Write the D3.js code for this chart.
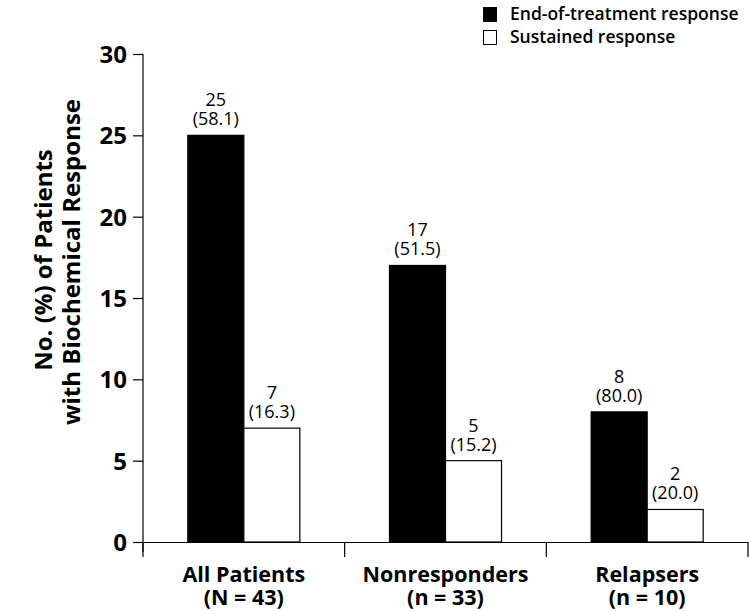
<!DOCTYPE html>
<html>
<head>
<meta charset="utf-8">
<script src="https://cdn.jsdelivr.net/npm/d3@7"></script>
<style>
  body { margin: 0; background: #fff; }
  svg text { font-family: "Open Sans", sans-serif; fill: #000; }
</style>
</head>
<body>
<svg id="chart"></svg>
<script>
const groups = ["All Patients", "Nonresponders", "Relapsers"];
const groupNs = ["(N = 43)", "(n = 33)", "(n = 10)"];
const seriesNames = ["End-of-treatment response", "Sustained response"];
const endOfTreatment = [25, 17, 8];
const endPct = ["58.1", "51.5", "80.0"];
const sustained = [7, 5, 2];
const sustPct = ["16.3", "15.2", "20.0"];
const yTicks = [0, 5, 10, 15, 20, 25, 30];

const width = 750, height = 611;
const margin = {top: 54, right: 2, bottom: 69, left: 143};

const svg = d3.select("#chart").attr("width", width).attr("height", height);

const x = d3.scaleBand().domain(groups).range([margin.left, width - margin.right]);
const y = d3.scaleLinear().domain([0, 30]).range([height - margin.bottom, margin.top]);
const sub = d3.scaleBand().domain([0, 1]).range([0, x.bandwidth()]).paddingInner(0).paddingOuter(0.8);

const colors = ["#000", "#fff"];
const series = [
  {vals: endOfTreatment, pct: endPct},
  {vals: sustained, pct: sustPct}
];

// axes
const yAxis = svg.append("g").attr("transform", `translate(${margin.left},0)`)
  .call(d3.axisLeft(y).tickValues(yTicks).tickSize(10).tickPadding(6));
yAxis.select(".domain").attr("d", `M0,${y(0) + 10}V${y(30)}`).attr("stroke-width", 1.2);
yAxis.selectAll(".tick line").attr("stroke-width", 1.2);
yAxis.selectAll(".tick text").attr("dy", "0.36em").style("font-size", "24px").style("font-weight", 700)
  .attr("font-family", "Open Sans");

const xAxis = svg.append("g").attr("transform", `translate(0,${y(0)})`)
  .call(d3.axisBottom(x).tickSize(0).tickFormat(""));
xAxis.select(".domain").attr("stroke-width", 1.2);
xAxis.selectAll(".tick").remove();
// boundary ticks between groups
const bounds = groups.map(g => x(g)).concat([x(groups[2]) + x.bandwidth()]);
xAxis.selectAll("line.b").data(bounds).join("line")
  .attr("x1", d => d).attr("x2", d => d).attr("y1", 0).attr("y2", 15)
  .attr("stroke", "#000").attr("stroke-width", 1.2);

// bars
const gGroup = svg.selectAll("g.grp").data(groups).join("g").attr("class", "grp")
  .attr("transform", d => `translate(${x(d)},0)`);

series.forEach((s, si) => {
  const cx = sub(si) + sub.bandwidth() / 2;
  gGroup.append("rect")
    .attr("x", sub(si))
    .attr("width", sub.bandwidth())
    .attr("y", (d, i) => y(s.vals[i]))
    .attr("height", (d, i) => y(0) - y(s.vals[i]))
    .attr("fill", colors[si])
    .attr("stroke", "#000")
    .attr("stroke-width", 1.2);

  gGroup.append("text")
    .attr("text-anchor", "middle").attr("x", cx)
    .attr("y", (d, i) => y(s.vals[i]) - 29)
    .style("font-size", "18px").style("font-weight", 500)
    .text((d, i) => s.vals[i]);
  gGroup.append("text")
    .attr("text-anchor", "middle").attr("x", cx)
    .attr("y", (d, i) => y(s.vals[i]) - 10)
    .style("font-size", "18px").style("font-weight", 500)
    .text((d, i) => `(${s.pct[i]})`);
});

// category labels
svg.selectAll("text.cat").data(groups).join("text").attr("class", "cat")
  .attr("text-anchor", "middle")
  .attr("x", d => x(d) + x.bandwidth() / 2)
  .attr("y", 582)
  .style("font-size", "21.5px").style("font-weight", 700)
  .text(d => d);
svg.selectAll("text.catn").data(groups).join("text").attr("class", "catn")
  .attr("text-anchor", "middle")
  .attr("x", d => x(d) + x.bandwidth() / 2)
  .attr("y", 605)
  .style("font-size", "21.5px").style("font-weight", 700)
  .text((d, i) => groupNs[i]);

// y title
svg.append("text").attr("transform", "translate(52,260) rotate(-90)")
  .attr("text-anchor", "middle").style("font-size", "24px").style("font-weight", 700)
  .text("No. (%) of Patients");
svg.append("text").attr("transform", "translate(80,262) rotate(-90)")
  .attr("text-anchor", "middle").style("font-size", "24px").style("font-weight", 700)
  .text("with Biochemical Response");

// legend
const leg = svg.append("g").attr("transform", "translate(483,7)");
seriesNames.forEach((n, i) => {
  leg.append("rect").attr("x", 0.5).attr("y", i * 23 + 0.5).attr("width", 13).attr("height", 14)
    .attr("fill", colors[i]).attr("stroke", "#000");
  leg.append("text").attr("x", 27).attr("y", i * 23 + 13).style("font-size", "17.5px").style("font-weight", 600).text(n);
});
</script>
</body>
</html>
